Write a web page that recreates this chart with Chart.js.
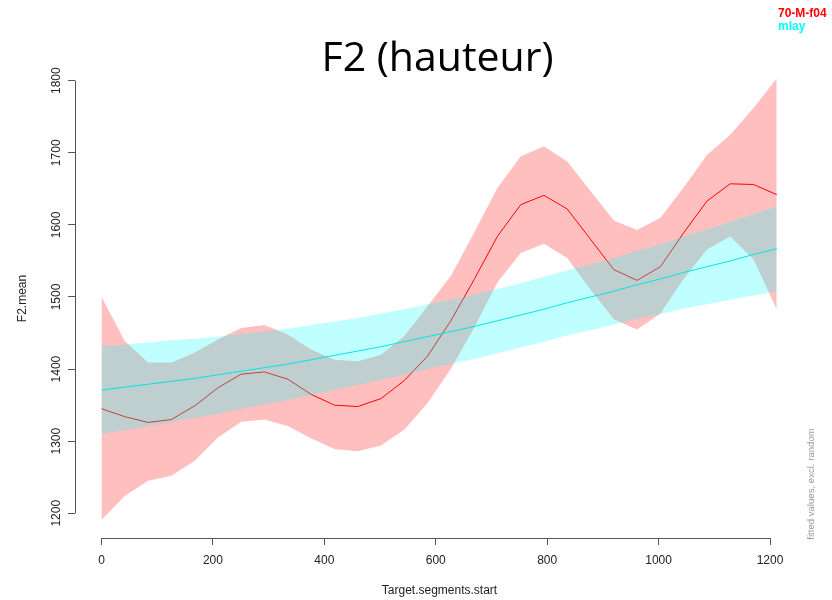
<!DOCTYPE html>
<html>
<head>
<meta charset="utf-8">
<title>F2 (hauteur)</title>
<script src="https://cdn.jsdelivr.net/npm/chart.js@4/dist/chart.umd.min.js"></script>
<style>
  body { margin: 0; background: #fff; }
  #wrap { width: 832px; height: 600px; }
</style>
</head>
<body>
<div id="wrap"><canvas id="f2Chart" width="832" height="600"></canvas></div>
<script>
// grid of Target.segments.start values (30 points)
const xs = [0, 41.8, 83.6, 125.4, 167.2, 209, 250.8, 292.6, 334.4, 376.2,
  418, 459.8, 501.6, 543.4, 585.2, 627, 668.8, 710.6, 752.4, 794.2,
  836, 877.8, 919.6, 961.4, 1003.2, 1045, 1086.8, 1128.6, 1170.4, 1212];

// 70-M-f04 (red)
const redMean = [1345, 1334, 1326, 1330, 1349, 1374, 1393, 1396, 1386, 1365,
  1350, 1348, 1359, 1384, 1418, 1467, 1524, 1584, 1628, 1641,
  1622, 1580, 1538, 1523, 1542, 1589, 1633, 1657, 1656, 1642];
const redUpper = [1500, 1439, 1409, 1409, 1423, 1441, 1457, 1461, 1448, 1427,
  1413, 1411, 1420, 1446, 1487, 1529, 1589, 1651, 1695, 1709,
  1688, 1647, 1606, 1593, 1610, 1652, 1697, 1725, 1762, 1803];
const redLower = [1191, 1224, 1245, 1252, 1273, 1305, 1327, 1330, 1321, 1304,
  1289, 1286, 1294, 1316, 1353, 1400, 1457, 1520, 1561, 1574,
  1554, 1510, 1469, 1455, 1477, 1525, 1566, 1584, 1552, 1483];

// mlay (cyan)
const cyanMean = [1371, 1375, 1379, 1383, 1387, 1392, 1397, 1402, 1407, 1413,
  1419, 1425, 1431, 1438, 1445, 1452, 1459, 1467, 1475, 1483,
  1492, 1500, 1508, 1517, 1525, 1534, 1542, 1550, 1559, 1567];
const cyanUpper = [1432, 1434, 1437, 1440, 1442, 1445, 1449, 1452, 1456, 1461,
  1466, 1471, 1477, 1483, 1490, 1496, 1503, 1511, 1519, 1528,
  1537, 1545, 1554, 1564, 1573, 1584, 1594, 1604, 1615, 1626];
const cyanLower = [1310, 1315, 1321, 1326, 1332, 1338, 1345, 1351, 1357, 1364,
  1371, 1378, 1385, 1392, 1400, 1407, 1414, 1422, 1430, 1438,
  1447, 1454, 1462, 1470, 1476, 1484, 1490, 1496, 1502, 1508];

const seriesNames = ['70-M-f04', 'mlay'];
const xTicks = [0, 200, 400, 600, 800, 1000, 1200];
const yTicks = [1200, 1300, 1400, 1500, 1600, 1700, 1800];

const pts = arr => xs.map((x, i) => ({ x, y: arr[i] }));

function band(label, arr, order, fill, bg) {
  return {
    label, data: pts(arr), order, fill,
    backgroundColor: bg, borderWidth: 0, pointRadius: 0, tension: 0
  };
}

// R style axes: line only from first to last tick, plus the extra texts
const extras = {
  id: 'extras',
  afterDraw(chart) {
    const { ctx, chartArea, scales: { x, y } } = chart;
    ctx.save();
    ctx.strokeStyle = '#555';
    ctx.lineWidth = 1;
    ctx.beginPath();
    const yb = Math.round(chartArea.bottom) + 0.5;
    ctx.moveTo(x.getPixelForValue(xTicks[0]), yb);
    ctx.lineTo(x.getPixelForValue(xTicks[xTicks.length - 1]), yb);
    const xl = Math.round(chartArea.left) + 0.5;
    ctx.moveTo(xl, y.getPixelForValue(yTicks[0]));
    ctx.lineTo(xl, y.getPixelForValue(yTicks[yTicks.length - 1]));
    ctx.stroke();

    ctx.fillStyle = '#000';
    ctx.font = '41px "Open Sans"';
    ctx.textAlign = 'center';
    ctx.fillText('F2 (hauteur)', 437.5, 71);

    ctx.font = 'bold 12px "Liberation Sans"';
    ctx.textAlign = 'left';
    ctx.fillStyle = '#ff0000';
    ctx.fillText(seriesNames[0], 778, 17);
    ctx.fillStyle = '#00ffff';
    ctx.fillText(seriesNames[1], 778, 30);

    ctx.translate(814, 484);
    ctx.rotate(-Math.PI / 2);
    ctx.font = '9.6px "Liberation Sans"';
    ctx.fillStyle = '#999';
    ctx.textAlign = 'center';
    ctx.fillText('fitted values, excl. random', 0, 0);
    ctx.restore();
  }
};

const axisFont = { family: '"Liberation Sans", Arial, sans-serif', size: 12 };
const plain = v => String(v);

new Chart(document.getElementById('f2Chart'), {
  type: 'line',
  data: {
    datasets: [
      band(seriesNames[0] + ' upper', redUpper, 6, 1, 'rgba(255,0,0,0.25)'),
      band(seriesNames[0] + ' lower', redLower, 5, false, 'transparent'),
      { label: seriesNames[0], data: pts(redMean), order: 4, borderColor: '#ff0000',
        borderWidth: 1, pointRadius: 0, tension: 0, fill: false },
      band(seriesNames[1] + ' upper', cyanUpper, 3, 4, 'rgba(0,255,255,0.25)'),
      band(seriesNames[1] + ' lower', cyanLower, 2, false, 'transparent'),
      { label: seriesNames[1], data: pts(cyanMean), order: 1, borderColor: '#00e5e5',
        borderWidth: 1, pointRadius: 0, tension: 0, fill: false }
    ]
  },
  options: {
    responsive: false,
    animation: false,
    layout: { padding: { top: 59, right: 28, bottom: 0, left: 0 } },
    plugins: { legend: { display: false }, tooltip: { enabled: false } },
    scales: {
      x: {
        type: 'linear', min: -47.57, max: 1261,
        afterBuildTicks: s => { s.ticks = xTicks.map(v => ({ value: v })); },
        afterFit: s => { s.height = 62; },
        border: { display: false },
        grid: { drawOnChartArea: false, tickLength: 7, color: '#555' },
        ticks: { font: axisFont, color: '#222', padding: 8, maxRotation: 0, autoSkip: false,
          callback: plain },
        title: { display: true, text: 'Target.segments.start', font: axisFont, color: '#222',
          padding: { top: 0, bottom: 2 } }
      },
      y: {
        min: 1165.7, max: 1830.1,
        afterBuildTicks: s => { s.ticks = yTicks.map(v => ({ value: v })); },
        afterFit: s => { s.width = 75; },
        border: { display: false },
        grid: { drawOnChartArea: false, tickLength: 7, color: '#555' },
        ticks: { font: axisFont, color: '#222', padding: -2, minRotation: 90, maxRotation: 90,
          crossAlign: 'center', autoSkip: false, callback: plain },
        title: { display: true, text: 'F2.mean', font: axisFont, color: '#222',
          padding: { top: 15, bottom: 0 } }
      }
    }
  },
  plugins: [extras]
});
</script>
</body>
</html>
